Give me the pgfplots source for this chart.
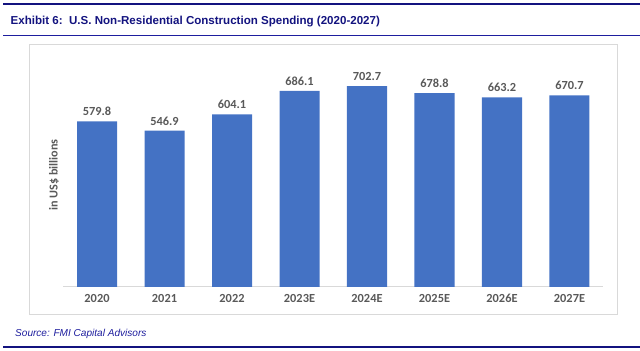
\documentclass[border=0pt]{standalone}
\usepackage{pgfplots}
\pgfplotsset{compat=1.18}
\usepackage{fontspec}
\setmainfont{Liberation Sans}
\newfontfamily\calib{Carlito}

\definecolor{navy}{HTML}{13137F}
\definecolor{navyrule}{HTML}{1E1E9E}
\definecolor{barblue}{HTML}{4472C4}
\definecolor{txtgrey}{HTML}{595959}
\definecolor{boxgrey}{HTML}{D9D9D9}

\begin{document}
\begin{tikzpicture}
  % page frame
  \path[use as bounding box] (0bp,0bp) rectangle (640bp,351bp);
  % header and footer rules
  \draw[navy, line width=1.6bp] (3bp,347bp) -- (640bp,347bp);
  \draw[navyrule, line width=1.2bp] (3bp,315.3bp) -- (640bp,315.3bp);
  \draw[navy, line width=1.6bp] (3bp,4bp) -- (640bp,4bp);
  % title and source
  \node[anchor=west, inner sep=0pt, text=navy, font=\bfseries\fontsize{11.6}{13}\selectfont]
    at (10.5bp,329bp) {Exhibit 6:\ \ U.S. Non-Residential Construction Spending (2020-2027)};
  \node[anchor=west, inner sep=0pt, text=navyrule, font=\itshape\fontsize{10.1}{12}\selectfont]
    at (15bp,17.5bp) {Source: FMI Capital Advisors};
  % chart frame
  \draw[boxgrey, line width=1bp] (29.3bp,36bp) rectangle (617bp,306.3bp);
  % value axis title
  \node[rotate=90, text=txtgrey, font=\calib\bfseries\fontsize{12.2}{14}\selectfont]
    at (54bp,176bp) {in US\$ billions};

  \begin{axis}[
    at={(97bp,64bp)}, anchor=origin,
    scale only axis,
    width=540bp, height=228.6bp,
    xmin=-0.5, xmax=7.5,
    ymin=0, ymax=800,
    axis y line=none,
    axis x line*=bottom,
    x axis line style={boxgrey, line width=1bp, -},
    xtick=data,
    xticklabels={2020,2021,2022,2023E,2024E,2025E,2026E,2027E},
    major tick length=0pt,
    ticklabel style={text=txtgrey, font=\calib\bfseries\fontsize{12.4}{14}\selectfont},
    xticklabel style={yshift=-4bp},
    clip=false,
    nodes near coords,
    nodes near coords style={text=txtgrey, font=\calib\bfseries\fontsize{12.4}{14}\selectfont,
      /pgf/number format/fixed, /pgf/number format/fixed zerofill,
      /pgf/number format/precision=1, /pgf/number format/assume math mode=true,
      yshift=2bp},
  ]
    \addplot[ybar, bar width=40bp, fill=barblue, draw=none]
      coordinates {(0,579.8) (1,546.9) (2,604.1) (3,686.1)
                   (4,702.7) (5,678.8) (6,663.2) (7,670.7)};
  \end{axis}
\end{tikzpicture}
\end{document}
